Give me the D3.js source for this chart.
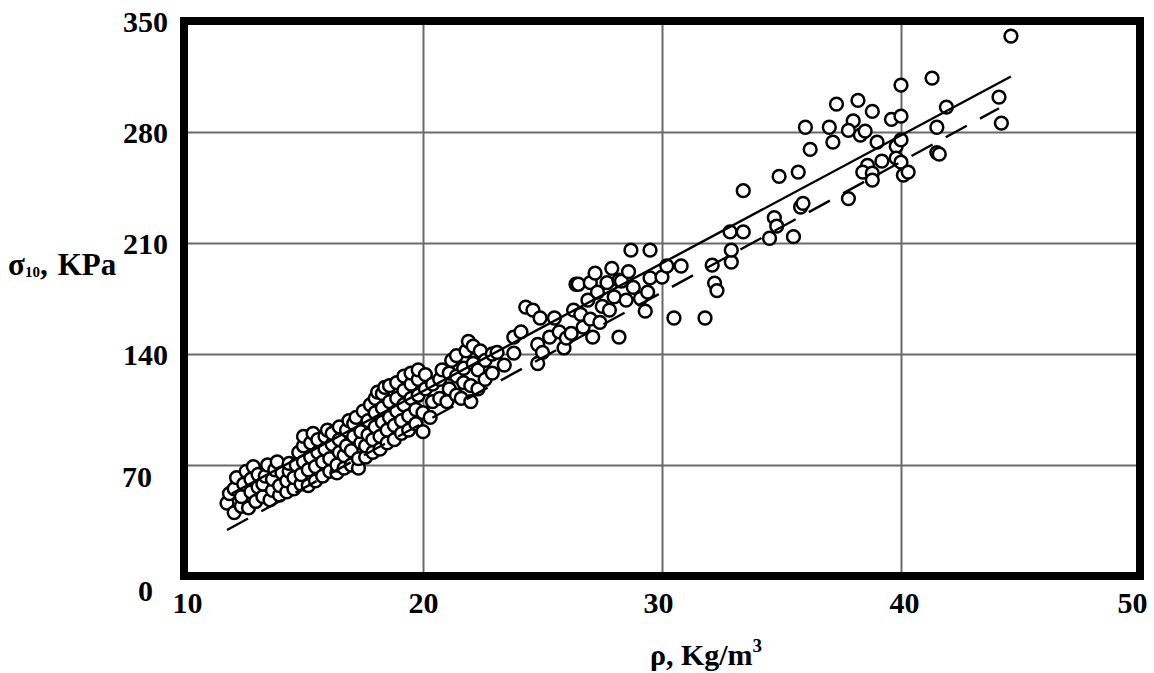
<!DOCTYPE html>
<html><head><meta charset="utf-8">
<script src="https://cdn.jsdelivr.net/npm/d3@7"></script>
<style>body{margin:0;background:#fff;} svg{display:block;}</style>
</head><body>
<svg id="chart" width="1154" height="673"></svg>
<script>
// ---- data ----
const xTicks = [10, 20, 30, 40, 50];
const yTicks = [0, 70, 140, 210, 280, 350];
const xTitle = "ρ, Kg/m";
const yTitle = "σ";

// dense lower cluster [density, stress]
const lowCluster = [
 [11.8,46],[11.9,52],[12.1,40],[12.1,55],[12.2,62],[12.4,44],[12.4,50],[12.5,58],[12.6,66],[12.7,43],
 [12.8,53],[12.8,61],[12.9,69],[13.0,47],[13.1,56],[13.1,64],[13.3,50],[13.3,58],[13.4,63],[13.5,70],
 [13.6,48],[13.7,54],[13.7,61],[13.8,67],[13.9,72],[14.0,51],[14.0,57],[14.1,65],[14.3,53],[14.3,60],
 [14.4,66],[14.4,71],[14.6,55],[14.6,62],[14.7,70],[14.8,78],[14.9,58],[14.9,64],[15.0,72],[15.0,82],
 [15.0,88],[15.2,57],[15.2,67],[15.3,75],[15.3,84],[15.4,90],[15.5,60],[15.5,69],[15.6,78],[15.6,86],
 [15.8,63],[15.8,72],[15.9,80],[15.9,88],[16.0,92],[16.1,66],[16.1,74],[16.2,83],[16.2,90],[16.4,65],
 [16.4,70],[16.5,78],[16.5,86],[16.5,94],[16.7,68],[16.7,76],[16.8,82],[16.8,92],[16.9,98],[17.0,70],
 [17.0,79],[17.1,88],[17.1,96],[17.2,100],[17.3,68],[17.3,74],[17.4,84],[17.4,91],[17.5,104],[17.6,75],
 [17.6,82],[17.7,89],[17.7,98],[17.8,108],[17.9,78],[17.9,86],[18.0,94],[18.0,103],[18.0,112],[18.1,116],
 [18.2,80],[18.2,88],[18.3,97],[18.3,106],[18.3,115],[18.4,119],[18.5,84],[18.5,92],[18.6,100],[18.6,110],
 [18.6,120],[18.8,86],[18.8,95],[18.9,104],[18.9,112],[18.9,122],[19.1,90],[19.1,98],[19.2,108],[19.2,117],
 [19.2,126],[19.4,92],[19.4,101],[19.5,112],[19.5,121],[19.5,128],[19.7,96],[19.7,105],[19.8,114],[19.8,124],
 [19.8,130],[20.0,91],[20.0,103],[20.1,118],[20.1,127]
];

// middle band
const midBand = [
 [20.3,100],[20.4,110],[20.4,121],[20.7,112],[20.7,124],[20.8,130],[21.0,110],[21.1,118],[21.1,128],[21.2,136],
 [21.4,114],[21.4,126],[21.4,139],[21.6,112],[21.7,122],[21.7,131],[21.8,142],[21.9,148],[22.0,110],[22.0,120],
 [22.1,134],[22.1,145],[22.3,118],[22.3,130],[22.4,142],[22.6,124],[22.6,136],[22.9,128],[22.9,140],[23.1,141],
 [23.4,133],[23.8,140.6],[23.8,150.7],[24.1,154],[24.3,169.6],[24.6,167.7],[24.8,146],[24.8,134],[24.9,162.7],[25.0,141],
 [25.3,150.7],[25.5,162.7],[25.7,154],[25.9,143.8],[26.0,150],[26.2,153],[26.3,167.7],[26.4,184],[26.5,184],[26.6,165],
 [26.7,157],[26.9,174],[27.0,162],[27.0,185],[27.1,150.7],[27.2,191],[27.3,179],[27.4,160],[27.5,170],[27.7,185],
 [27.8,167.7],[27.9,194],[28.0,176],[28.2,186.6],[28.2,150.7],[28.3,186],[28.5,174],[28.6,192],[28.7,205.5],[28.8,182],
 [29.1,175],[29.3,167],[29.4,179],[29.5,188],[29.5,205.5],[30.0,188.5],[30.2,195.5],[30.5,162.7],[30.8,195.5],[31.8,162.7],
 [32.1,196],[32.2,184.7],[32.3,180],[32.9,198],[32.9,205.5],[32.85,217],[33.4,217]
];

// sparse upper scatter
const highScatter = [
 [33.4,243],[34.7,226],[34.8,220.7],[34.5,213],[35.5,214],[34.9,252],[35.7,254.7],[35.8,232.7],[35.9,235],[36.0,283],
 [36.2,269],[37.0,283],[37.15,273.6],[37.3,297.6],[37.8,238],[38.0,287],[37.8,281],[38.2,300],[38.3,278],[38.5,280.6],
 [38.8,293],[39.0,273.6],[38.6,259],[38.4,254.7],[38.8,254],[38.8,249.7],[39.2,261.6],[39.6,288],[39.8,271],[39.8,263.5],
 [40.0,309.6],[40.0,290],[40.0,275],[40.0,261],[40.1,252.8],[40.3,254.7],[41.3,314],[41.5,283],[41.5,267],[41.6,266],
 [41.9,295.7],[44.1,302],[44.2,285.6],[44.6,340.5]
];

const solidFit = [[12.0,52],[44.6,315]];
const dashedFit = [[11.8,29],[44.1,295]];

// ---- layout ----
const svg = d3.select("#chart");
const mLeft = 184, mRight = 1140, mTop = 21, mBottom = 576;
const x = d3.scaleLinear().domain([10,50]).range([mLeft,mRight]);
const y = d3.scaleLinear().domain([0,350]).range([mBottom,mTop]);
const font = "'Liberation Serif','Times New Roman',serif";

// grid
const gx = svg.append("g").attr("transform",`translate(0,${mBottom})`)
  .call(d3.axisBottom(x).tickValues(xTicks.slice(1,-1)).tickSize(-(mBottom-mTop)).tickFormat(""));
const gy = svg.append("g").attr("transform",`translate(${mLeft},0)`)
  .call(d3.axisLeft(y).tickValues(yTicks.slice(1,-1)).tickSize(-(mRight-mLeft)).tickFormat(""));
[gx,gy].forEach(g=>{ g.select(".domain").remove(); g.selectAll("line").attr("stroke","#6a6a6a").attr("stroke-width",2); });

// points
const allPts = lowCluster.concat(midBand, highScatter);
svg.append("g").selectAll("circle").data(allPts).join("circle")
  .attr("cx",d=>x(d[0])).attr("cy",d=>y(d[1])).attr("r",6.4)
  .attr("fill","#fff").attr("stroke","#000").attr("stroke-width",2.5);

// fit lines
const line = d3.line().x(d=>x(d[0])).y(d=>y(d[1]));
svg.append("path").datum(solidFit).attr("d",line).attr("stroke","#000").attr("stroke-width",2.4).attr("fill","none");
svg.append("path").datum(dashedFit).attr("d",line).attr("stroke","#000").attr("stroke-width",2.4)
  .attr("stroke-dasharray","24,15").attr("fill","none");

// frame
svg.append("rect").attr("x",mLeft).attr("y",mTop).attr("width",mRight-mLeft).attr("height",mBottom-mTop)
  .attr("fill","none").attr("stroke","#000").attr("stroke-width",8);

// tick labels
const yLabelShift = {0:[-15,14], 70:[-16,11]};
const xLabelShift = {10:[3,0], 30:[-4,0], 40:[3,0], 50:[-8,0]};
const ax = svg.append("g").attr("transform",`translate(0,${mBottom})`)
  .call(d3.axisBottom(x).tickValues(xTicks).tickSize(0).tickPadding(16).tickFormat(d3.format("d")));
const ay = svg.append("g").attr("transform",`translate(${mLeft},0)`)
  .call(d3.axisLeft(y).tickValues(yTicks).tickSize(0).tickPadding(16).tickFormat(d3.format("d")));
[ax,ay].forEach(g=>{ g.select(".domain").remove();
  g.selectAll("text").attr("font-family",font).attr("font-weight","bold").attr("font-size",30).attr("fill","#000"); });
ay.selectAll(".tick text").each(function(d){ const s=yLabelShift[d]||[0,0];
  d3.select(this).attr("dx",s[0]).attr("dy",null).attr("y",s[1]+10); });
ax.selectAll(".tick text").attr("x",d=>(xLabelShift[d]||[0,0])[0]);

// axis titles
const yt = svg.append("text").attr("x",8).attr("y",275).attr("font-family",font).attr("font-weight","bold")
  .attr("font-size",31).attr("fill","#000");
yt.append("tspan").text(yTitle);
yt.append("tspan").attr("font-size",15).attr("dy",2).text("10");
yt.append("tspan").attr("dy",-2).text(",");
yt.append("tspan").attr("dx",10).text("KPa");

const xt = svg.append("text").attr("x",706).attr("y",665).attr("text-anchor","middle").attr("font-family",font)
  .attr("font-weight","bold").attr("font-size",30).attr("fill","#000");
xt.append("tspan").text(xTitle);
xt.append("tspan").attr("font-size",19).attr("dy",-13).text("3");
</script>
</body></html>
